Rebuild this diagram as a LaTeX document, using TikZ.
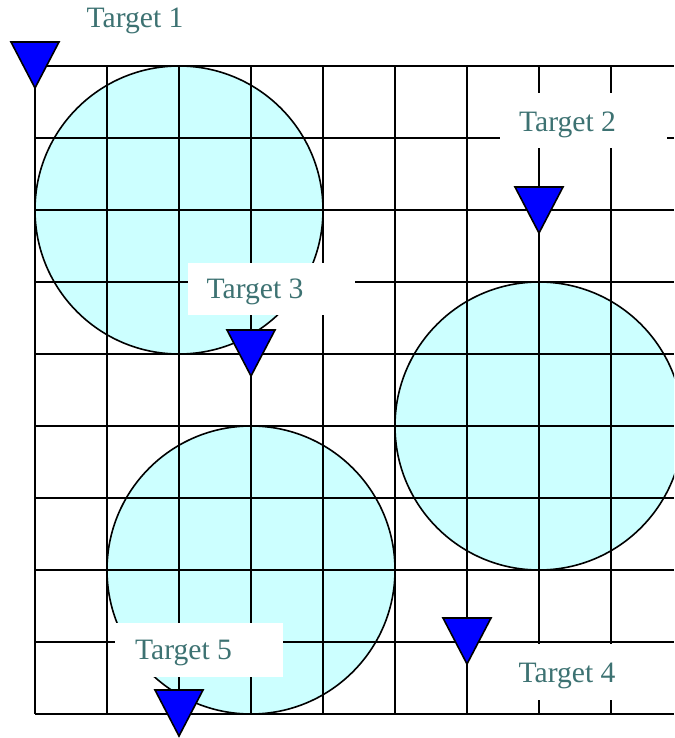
\documentclass[tikz,border=0pt]{standalone}
\usepackage{fontspec}
\setmainfont{Liberation Serif}
\definecolor{circfill}{HTML}{CCFFFF}
\definecolor{labtext}{HTML}{3D7272}
\begin{document}
\begin{tikzpicture}[x=1pt,y=-1pt,
  gridline/.style={black,line width=1.6pt},
  zone/.style={draw=black,fill=circfill,line width=1.6pt},
  tri/.style={draw=black,fill=blue,line width=1.6pt,line join=miter},
  whitebox/.style={fill=white,draw=none,inner sep=0pt},
  lab/.style={text=labtext,font=\fontsize{29.6}{31}\selectfont,inner sep=0pt,anchor=base}]
\useasboundingbox (0,0) rectangle (674,738);
\clip (0,0) rectangle (674,738);
% circles
\draw[zone] (179,210) circle (144);
\draw[zone] (539,426) circle (144);
\draw[zone] (251,570) circle (144);
% grid
\foreach \x in {35,107,179,251,323,395,467,539,611}
  \draw[gridline] (\x,66) -- (\x,714);
\foreach \y in {66,138,210,282,354,426,498,570,642,714}
  \draw[gridline] (35,\y) -- (674,\y);
% white label boxes
\node[whitebox,minimum width=167pt,minimum height=55pt] (b2) at (583.5,120.5) {};
\node[whitebox,minimum width=167pt,minimum height=52pt] (b3) at (271.5,289) {};
\node[whitebox,minimum width=168pt,minimum height=54pt] (b5) at (199,650) {};
\node[whitebox,minimum width=172pt,minimum height=56pt] (b4) at (576,672) {};
% labels
\node[lab] (t1) at (135,28) {Target 1};
\node[lab] (t2) at (567.5,132) {Target 2};
\node[lab] (t3) at (255,298) {Target 3};
\node[lab] (t5) at (183.5,659) {Target 5};
\node[lab] (t4) at (567,682) {Target 4};
% triangles
\draw[tri] (11,42) -- (59,42) -- (35,88) -- cycle;
\draw[tri] (515,187) -- (563,187) -- (539,233) -- cycle;
\draw[tri] (227,330) -- (275,330) -- (251,376) -- cycle;
\draw[tri] (443,618) -- (491,618) -- (467,664) -- cycle;
\draw[tri] (155,690) -- (203,690) -- (179,736) -- cycle;
\end{tikzpicture}
\end{document}
